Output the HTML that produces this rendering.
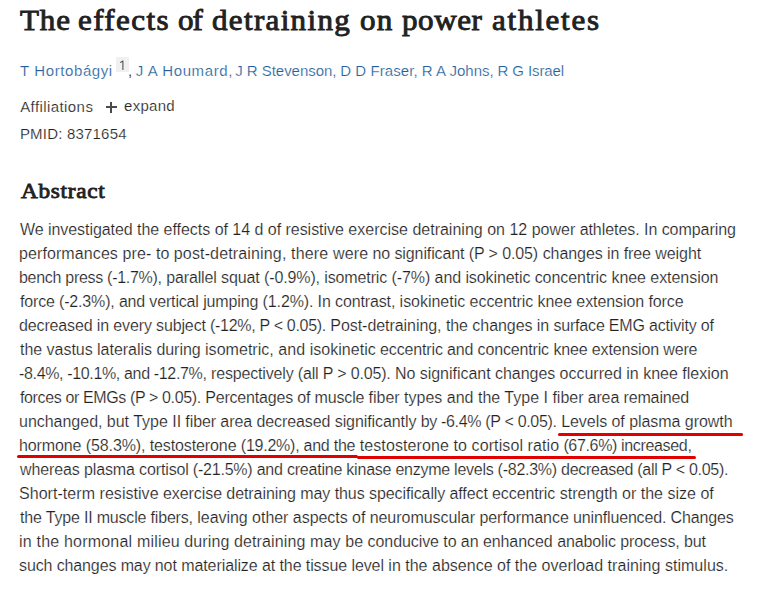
<!DOCTYPE html>
<html><head><meta charset="utf-8">
<style>
html,body{margin:0;padding:0;background:#fff;width:772px;height:593px;overflow:hidden;position:relative}
body{font-family:"Liberation Sans",sans-serif;color:#212121}
.i{position:absolute;white-space:nowrap;line-height:40px}
.b{font-family:'Liberation Sans';font-size:16px;color:#222;-webkit-text-stroke:0.2px #fff;}
.sup{position:absolute;left:116px;top:56.5px;width:12.5px;height:15.3px;background:#f0f0f0}
.plus{position:absolute;background:#4a4a4a}
.ul{position:absolute;height:3px;background:#e00000;border-radius:1.5px}
</style></head><body>
<div class="i" style="left:19.7px;top:0.4px;font-family:'Liberation Serif';font-size:29px;-webkit-text-stroke:0.9px #212121;color:#212121;transform:scaleX(1.07);transform-origin:0 0;letter-spacing:0.8px">The</div>
<div class="i" style="left:78.4px;top:0.4px;font-family:'Liberation Serif';font-size:29px;-webkit-text-stroke:0.9px #212121;color:#212121;transform:scaleX(1.07);transform-origin:0 0;letter-spacing:1.3px">effects</div>
<div class="i" style="left:177.8px;top:0.4px;font-family:'Liberation Serif';font-size:29px;-webkit-text-stroke:0.9px #212121;color:#212121;transform:scaleX(1.07);transform-origin:0 0;letter-spacing:-1.0px">of</div>
<div class="i" style="left:212.3px;top:0.4px;font-family:'Liberation Serif';font-size:29px;-webkit-text-stroke:0.9px #212121;color:#212121;transform:scaleX(1.07);transform-origin:0 0;letter-spacing:1.2444px">detraining</div>
<div class="i" style="left:360.2px;top:0.4px;font-family:'Liberation Serif';font-size:29px;-webkit-text-stroke:0.9px #212121;color:#212121;transform:scaleX(1.07);transform-origin:0 0;letter-spacing:1.2px">on</div>
<div class="i" style="left:401.9px;top:0.4px;font-family:'Liberation Serif';font-size:29px;-webkit-text-stroke:0.9px #212121;color:#212121;transform:scaleX(1.07);transform-origin:0 0;letter-spacing:0.55px">power</div>
<div class="i" style="left:491.8px;top:0.4px;font-family:'Liberation Serif';font-size:29px;-webkit-text-stroke:0.9px #212121;color:#212121;transform:scaleX(1.07);transform-origin:0 0;letter-spacing:1.6286px">athletes</div>
<div class="i" style="left:20.0px;top:51.0px;font-family:'Liberation Sans';font-size:15px;color:#245f9c;-webkit-text-stroke:0.2px #fff;letter-spacing:0.6px">T Hortobágyi</div>
<div class="i" style="left:135.7px;top:51.0px;font-family:'Liberation Sans';font-size:15px;color:#245f9c;-webkit-text-stroke:0.2px #fff;letter-spacing:0.6px">J A Houmard,</div>
<div class="i" style="left:235.2px;top:51.0px;font-family:'Liberation Sans';font-size:15px;color:#245f9c;-webkit-text-stroke:0.2px #fff;letter-spacing:-0.0308px">J R Stevenson,</div>
<div class="i" style="left:340.2px;top:51.0px;font-family:'Liberation Sans';font-size:15px;color:#245f9c;-webkit-text-stroke:0.2px #fff;letter-spacing:0.08px">D D Fraser,</div>
<div class="i" style="left:421.8px;top:51.0px;font-family:'Liberation Sans';font-size:15px;color:#245f9c;-webkit-text-stroke:0.2px #fff;letter-spacing:0.0222px">R A Johns,</div>
<div class="i" style="left:497.6px;top:51.0px;font-family:'Liberation Sans';font-size:15px;color:#245f9c;-webkit-text-stroke:0.2px #fff;letter-spacing:-0.1111px">R G Israel</div>
<div class="i" style="left:20.2px;top:86.6px;font-family:'Liberation Sans';font-size:15px;color:#222;-webkit-text-stroke:0.2px #fff;letter-spacing:0.4182px">Affiliations</div>
<div class="i" style="left:124.1px;top:86.3px;font-family:'Liberation Sans';font-size:15px;color:#222;-webkit-text-stroke:0.2px #fff;letter-spacing:0.28px">expand</div>
<div class="i" style="left:19.9px;top:113.8px;font-family:'Liberation Sans';font-size:15px;color:#222;-webkit-text-stroke:0.2px #fff;letter-spacing:0.2px">PMID: 8371654</div>
<div class="i" style="left:21.0px;top:170.5px;font-family:'Liberation Serif';font-size:20px;-webkit-text-stroke:0.8px #212121;color:#212121;transform:scaleX(1.16);transform-origin:0 0;letter-spacing:0.6286px">Abstract</div>
<div class="i b" style="left:20.00px;top:210.0px;letter-spacing:-0.0572px">We investigated the</div>
<div class="i b" style="left:163.59px;top:210.0px;letter-spacing:-0.0294px">effects of 14 d of resistive</div>
<div class="i b" style="left:348.33px;top:210.0px;letter-spacing:0.0039px">exercise detraining on 12 power</div>
<div class="i b" style="left:579.64px;top:210.0px;letter-spacing:-0.0532px">athletes. In comparing</div>
<div class="i b" style="left:19.00px;top:234.0px;letter-spacing:0.0956px">performances pre- to</div>
<div class="i b" style="left:173.81px;top:234.0px;letter-spacing:0.1513px">post-detraining, there were</div>
<div class="i b" style="left:372.56px;top:234.0px;letter-spacing:-0.1083px">no significant (P &gt; 0.05)</div>
<div class="i b" style="left:542.70px;top:234.0px;letter-spacing:-0.0785px">changes in free weight</div>
<div class="i b" style="left:19.00px;top:258.0px;letter-spacing:-0.2919px">bench press (-1.7%),</div>
<div class="i b" style="left:166.14px;top:258.0px;letter-spacing:-0.1184px">parallel squat (-0.9%), isometric</div>
<div class="i b" style="left:391.50px;top:258.0px;letter-spacing:-0.0814px">(-7%) and isokinetic</div>
<div class="i b" style="left:534.64px;top:258.0px;letter-spacing:-0.0507px">concentric knee extension</div>
<div class="i b" style="left:20.00px;top:282.0px;letter-spacing:-0.1649px">force (-2.3%), and vertical</div>
<div class="i b" style="left:203.13px;top:282.0px;letter-spacing:-0.1257px">jumping (1.2%). In contrast,</div>
<div class="i b" style="left:399.61px;top:282.0px;letter-spacing:-0.0283px">isokinetic eccentric</div>
<div class="i b" style="left:537.58px;top:282.0px;letter-spacing:-0.0809px">knee extension force</div>
<div class="i b" style="left:19.00px;top:306.0px;letter-spacing:-0.1356px">decreased in every subject</div>
<div class="i b" style="left:210.08px;top:306.0px;letter-spacing:-0.3119px">(-12%, P &lt; 0.05).</div>
<div class="i b" style="left:330.33px;top:306.0px;letter-spacing:-0.0556px">Post-detraining, the changes in</div>
<div class="i b" style="left:553.39px;top:306.0px;letter-spacing:-0.1783px">surface EMG activity of</div>
<div class="i b" style="left:20.00px;top:330.0px;letter-spacing:-0.0275px">the vastus lateralis during</div>
<div class="i b" style="left:205.03px;top:330.0px;letter-spacing:0.0382px">isometric, and isokinetic</div>
<div class="i b" style="left:380.11px;top:330.0px;letter-spacing:-0.1530px">eccentric and concentric</div>
<div class="i b" style="left:553.44px;top:330.0px;letter-spacing:-0.1493px">knee extension were</div>
<div class="i b" style="left:19.00px;top:354.0px;letter-spacing:-0.3471px">-8.4%, -10.1%, and -12.7%,</div>
<div class="i b" style="left:211.03px;top:354.0px;letter-spacing:-0.1656px">respectively (all P &gt; 0.05).</div>
<div class="i b" style="left:394.95px;top:354.0px;letter-spacing:-0.0281px">No significant changes</div>
<div class="i b" style="left:559.50px;top:354.0px;letter-spacing:0.0051px">occurred in knee flexion</div>
<div class="i b" style="left:20.00px;top:378.0px;letter-spacing:-0.3745px">forces or EMGs (P &gt; 0.05).</div>
<div class="i b" style="left:205.17px;top:378.0px;letter-spacing:-0.1745px">Percentages of muscle</div>
<div class="i b" style="left:368.53px;top:378.0px;letter-spacing:0.0029px">fiber types and the Type I fiber</div>
<div class="i b" style="left:587.67px;top:378.0px;letter-spacing:-0.1328px">area remained</div>
<div class="i b" style="left:19.00px;top:402.0px;letter-spacing:-0.0197px">unchanged, but Type II</div>
<div class="i b" style="left:185.31px;top:402.0px;letter-spacing:-0.0846px">fiber area decreased significantly</div>
<div class="i b" style="left:420.66px;top:402.0px;letter-spacing:-0.3254px">by -6.4% (P &lt; 0.05).</div>
<div class="i b" style="left:561.14px;top:402.0px;letter-spacing:-0.0467px">Levels of plasma growth</div>
<div class="i b" style="left:19.00px;top:426.0px;letter-spacing:-0.1074px">hormone (58.3%), testosterone</div>
<div class="i b" style="left:240.80px;top:426.0px;letter-spacing:-0.2407px">(19.2%), and the</div>
<div class="i b" style="left:359.72px;top:426.0px;letter-spacing:0.0995px">testosterone to cortisol ratio</div>
<div class="i b" style="left:563.38px;top:426.0px;letter-spacing:-0.3427px">(67.6%) increased,</div>
<div class="i b" style="left:20.00px;top:450.0px;letter-spacing:-0.1244px">whereas plasma cortisol</div>
<div class="i b" style="left:192.86px;top:450.0px;letter-spacing:-0.2195px">(-21.5%) and creatine kinase</div>
<div class="i b" style="left:395.47px;top:450.0px;letter-spacing:-0.2618px">enzyme levels (-82.3%)</div>
<div class="i b" style="left:561.12px;top:450.0px;letter-spacing:-0.3005px">decreased (all P &lt; 0.05).</div>
<div class="i b" style="left:19.00px;top:474.0px;letter-spacing:0.0456px">Short-term resistive</div>
<div class="i b" style="left:162.95px;top:474.0px;letter-spacing:-0.0703px">exercise detraining may thus</div>
<div class="i b" style="left:369.09px;top:474.0px;letter-spacing:-0.1047px">specifically affect eccentric</div>
<div class="i b" style="left:559.67px;top:474.0px;letter-spacing:0.0122px">strength or the size of</div>
<div class="i b" style="left:20.00px;top:498.0px;letter-spacing:-0.1820px">the Type II muscle fibers,</div>
<div class="i b" style="left:197.27px;top:498.0px;letter-spacing:-0.0368px">leaving other aspects of</div>
<div class="i b" style="left:369.66px;top:498.0px;letter-spacing:-0.0395px">neuromuscular performance</div>
<div class="i b" style="left:573.05px;top:498.0px;letter-spacing:-0.1520px">uninfluenced. Changes</div>
<div class="i b" style="left:19.00px;top:522.0px;letter-spacing:0.1990px">in the hormonal milieu</div>
<div class="i b" style="left:184.22px;top:522.0px;letter-spacing:0.1193px">during detraining may be</div>
<div class="i b" style="left:367.59px;top:522.0px;letter-spacing:-0.0764px">conducive to an enhanced</div>
<div class="i b" style="left:557.17px;top:522.0px;letter-spacing:-0.1177px">anabolic process, but</div>
<div class="i b" style="left:19.00px;top:546.0px;letter-spacing:-0.1185px">such changes may not</div>
<div class="i b" style="left:181.22px;top:546.0px;letter-spacing:-0.0896px">materialize at the tissue level</div>
<div class="i b" style="left:388.33px;top:546.0px;letter-spacing:0.0104px">in the absence of the</div>
<div class="i b" style="left:541.47px;top:546.0px;letter-spacing:0.0373px">overload training stimulus.</div>
<div class="sup"></div>
<svg style="position:absolute;left:116px;top:56px" width="13" height="16" viewBox="0 0 13 16"><path d="M4.2 6.6 L6.9 5 L6.9 14" fill="none" stroke="#4a4a4a" stroke-width="1.05" stroke-linejoin="round"/></svg>
<div class="i" style="left:128px;top:51px;font-family:'Liberation Sans';font-size:15px;color:#444">,</div>
<div class="plus" style="left:106px;top:106px;width:10.5px;height:2px"></div>
<div class="plus" style="left:110.3px;top:102px;width:2px;height:11px"></div>
<div class="ul" style="left:558.3px;top:433px;width:184.5px"></div>
<div class="ul" style="left:17px;top:455.3px;width:341px;height:2.7px"></div>
<div class="ul" style="left:356.5px;top:456.1px;width:339.3px;height:2.9px"></div>
</body></html>
